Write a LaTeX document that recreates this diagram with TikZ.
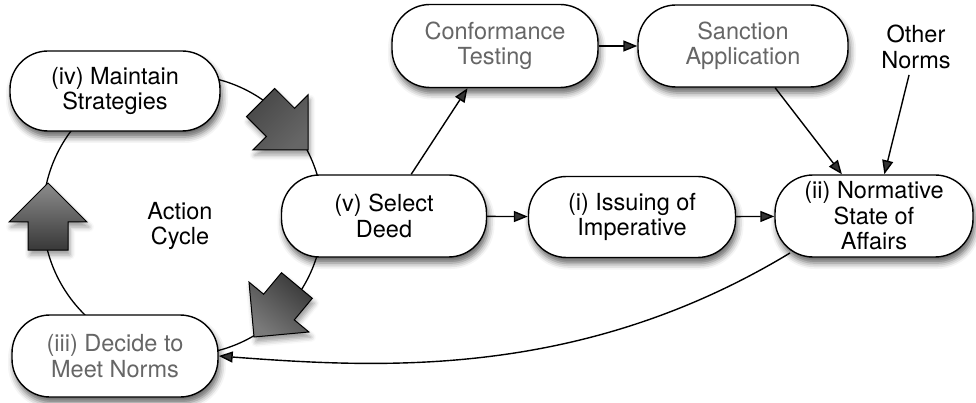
\documentclass[tikz,border=0pt]{standalone}
\usepackage{fontspec}
\setmainfont{TeX Gyre Heros}
\usetikzlibrary{arrows.meta,calc,shadows.blur}
\begin{document}
\begin{tikzpicture}[x=1pt,y=-1pt,
  txt/.style={align=center, font=\fontsize{23.5}{25.5}\selectfont},
  box/.style={txt, draw=black, line width=1.4pt, fill=white, rounded corners=38pt, inner sep=0pt,
    blur shadow={shadow xshift=2pt, shadow yshift=-6pt, shadow blur radius=6pt, shadow opacity=60}},
  graytext/.style={text=black!60},
  conn/.style={line width=1.4pt, -{Triangle[length=14pt,width=11pt]}},
  blockarrow/.style={draw=black, line width=1pt,
    blur shadow={shadow xshift=2pt, shadow yshift=-5pt, shadow blur radius=5pt, shadow opacity=40}},
  cyclering/.style={circle, draw=black, line width=1.3pt, inner sep=0pt, minimum size=280pt}
]
\useasboundingbox (0,0) rectangle (976,403);

% action cycle ring
\node[cyclering] (ring) at (183,215) {};

% block arrows on the ring
\path[blockarrow, left color=black!72, middle color=black!30, right color=black!60, shading angle=45]
  (308,150) -- (252.8,150) -- (266.3,136.5) -- (246.5,116.7) -- (274.7,88.5) -- (294.5,108.3) -- (308,94.8) -- cycle;
\path[blockarrow, left color=black!78, middle color=black!32, right color=black!52, shading angle=-40]
  (254,337) -- (308.9,332.0) -- (294.3,319.9) -- (312.3,298.3) -- (281.5,272.7) -- (263.6,294.2) -- (249.0,282.1) -- cycle;
\path[blockarrow, left color=black!45, middle color=black!30, right color=black!78, shading angle=0]
  (48,183) -- (87,222) -- (68,222) -- (68,250) -- (28,250) -- (28,222) -- (9,222) -- cycle;

% nodes
\node[box, minimum width=210pt, minimum height=80pt] (maintain) at (115,91) {(iv) Maintain\\Strategies};
\node[box, graytext, minimum width=206pt, minimum height=82pt] (decide) at (115,356) {(iii) Decide to\\Meet Norms};
\node[box, graytext, minimum width=206pt, minimum height=83pt] (conformance) at (495,46) {Conformance\\Testing};
\node[box, graytext, minimum width=210pt, minimum height=82pt] (sanction) at (743,46) {Sanction\\Application};
\node[box, minimum width=205pt, minimum height=82pt] (select) at (384,216) {(v) Select\\Deed};
\node[box, minimum width=207pt, minimum height=81pt] (issuing) at (632,217) {(i) Issuing of\\Imperative};
\node[box, minimum width=198pt, minimum height=82pt] (normative) at (874,216) {(ii) Normative\\State of\\Affairs};

\node[txt, inner sep=6pt] (other) at (916,47) {Other\\Norms};
\node[txt] (action) at (180,226) {Action\\Cycle};

% connectors
\draw[conn] (select) -- (conformance);
\draw[conn] (conformance) -- (sanction);
\draw[conn] (select) -- (issuing);
\draw[conn] (issuing) -- (normative);
\draw[conn] (sanction) -- (normative);
\draw[conn] (other) -- (normative);
\draw[conn] ($(normative.center)+(-84,37)$) .. controls +(-210,127) and +(160,12) .. (decide.east);
\end{tikzpicture}
\end{document}
